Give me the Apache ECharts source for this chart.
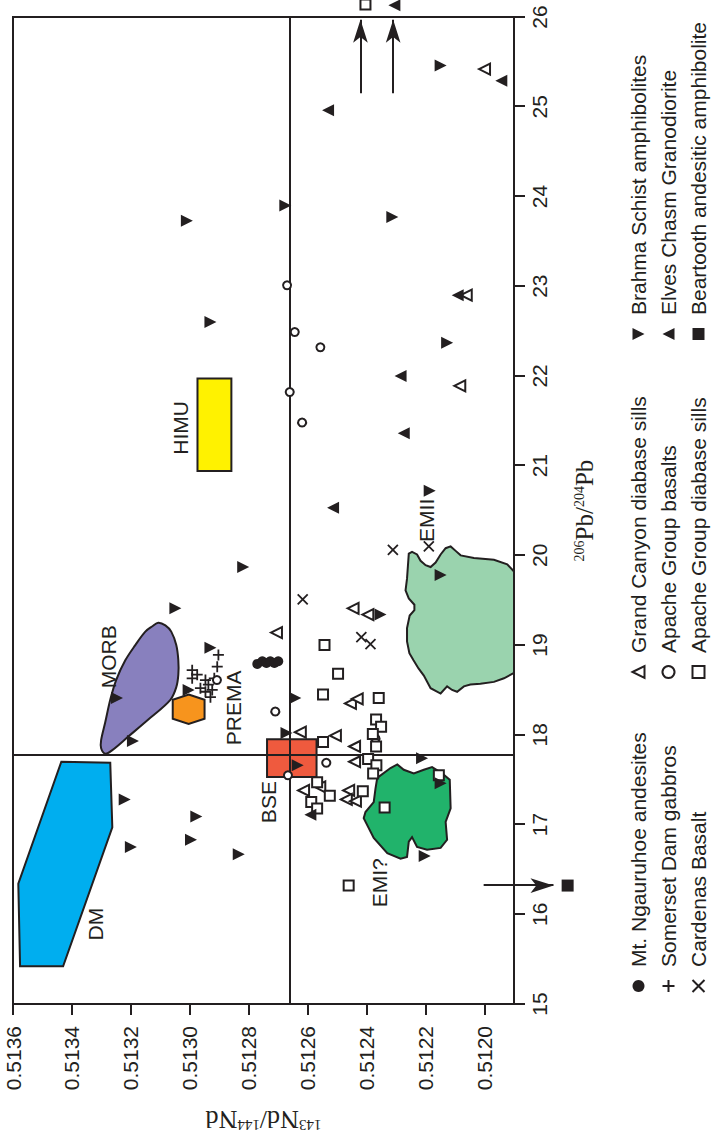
<!DOCTYPE html>
<html><head><meta charset="utf-8">
<script src="https://cdn.jsdelivr.net/npm/echarts@6/dist/echarts.min.js"></script>
<style>
html,body{margin:0;padding:0;width:714px;height:1142px;overflow:hidden;background:#fff;}
#chart{position:absolute;left:0;top:1142px;width:1142px;height:714px;transform-origin:0 0;transform:rotate(-90deg);}
</style></head><body><div id="chart"></div>
<script>
// ---- axes ----
const pbMin = 15, pbMax = 26;
const ndMin = 0.5119, ndMax = 0.5136;
const pbTicks = [15,16,17,18,19,20,21,22,23,24,25,26];
const ndTicks = [0.5120,0.5122,0.5124,0.5126,0.5128,0.5130,0.5132,0.5134,0.5136];

// ---- sample data: [206Pb/204Pb, 143Nd/144Nd] ----
const ngauruhoe = [[18.79,0.512771],[18.82,0.512754],[18.80,0.512740],[18.82,0.512727],[18.80,0.512713],[18.82,0.512700]];
const somerset = [[18.89,0.512903],[18.76,0.512907],[18.72,0.512992],[18.63,0.512992],[18.67,0.512975],[18.61,0.512947],[18.56,0.512937],[18.50,0.512924],[18.42,0.512930],[18.48,0.512947],[18.63,0.512917],[18.52,0.512964]];
const cardenas = [[19.51,0.512617],[20.06,0.512311],[20.10,0.512189],[19.09,0.512418],[19.01,0.512387]];
const grandCanyon = [[25.42,0.512000],[22.90,0.512062],[21.89,0.512084],[19.41,0.512446],[19.34,0.512396],[19.14,0.512706],[18.35,0.512455],[18.40,0.512432],[18.03,0.512625],[17.99,0.512506],[17.87,0.512441],[17.70,0.512441],[17.42,0.512559],[17.38,0.512614],[17.38,0.512461],[17.28,0.512469],[17.26,0.512438]];
const apacheBasalts = [[23.01,0.512670],[22.49,0.512644],[22.32,0.512557],[21.82,0.512661],[21.48,0.512619],[18.61,0.512908],[18.26,0.512710],[17.96,0.512370],[17.69,0.512537],[17.55,0.512667]];
const apacheSills = [[19.00,0.512543],[18.68,0.512497],[18.45,0.512548],[18.41,0.512359],[18.17,0.512368],[18.09,0.512351],[17.92,0.512548],[18.01,0.512379],[17.87,0.512368],[17.73,0.512395],[17.66,0.512367],[17.57,0.512378],[17.47,0.512568],[17.55,0.512155],[17.32,0.512525],[17.37,0.512413],[17.25,0.512588],[17.18,0.512568],[17.19,0.512339],[16.32,0.512461],[26.14,0.512404]];
const brahma = [[23.73,0.513010],[22.60,0.512930],[25.46,0.512149],[23.90,0.512676],[23.77,0.512313],[22.37,0.512127],[19.87,0.512819],[19.41,0.513049],[18.97,0.512930],[20.72,0.512186],[19.78,0.512149],[19.34,0.512353],[18.41,0.513247],[17.93,0.513193],[18.50,0.513004],[17.28,0.513221],[17.09,0.512978],[16.75,0.513200],[16.83,0.512996],[16.67,0.512834],[18.41,0.512642],[18.02,0.512672],[17.66,0.512634],[17.74,0.512212],[17.46,0.512149],[16.65,0.512203]];
const elves = [[25.29,0.511943],[24.96,0.512531],[22.90,0.512091],[22.00,0.512285],[21.36,0.512274],[20.53,0.512514],[17.11,0.512591],[26.13,0.512306]];
const beartooth = [[16.32,0.511718]];

// ---- reference values (bulk silicate earth) ----
const bsePb = 17.77;
const bseNd = 0.51266;

// ---- off-scale arrows ----
const arrowFrom = [[25.15,0.512421],[25.15,0.512310],[16.32,0.512003]];
const arrowTo   = [[25.97,0.512421],[25.97,0.512310],[16.32,0.511766]];

// ---- mantle reservoir fields ----
const fieldDM = [[17.70,0.513436],[17.69,0.513270],[16.97,0.513263],[15.42,0.513430],[15.42,0.513576],[16.34,0.513582]];
const fieldMORB = [[19.25,0.513107],[19.22,0.513083],[19.15,0.513063],[19.00,0.513046],[18.83,0.513039],[18.67,0.513039],[18.53,0.513046],[18.39,0.513066],[18.19,0.513134],[17.98,0.513209],[17.83,0.513263],[17.79,0.513287],[17.85,0.513301],[17.94,0.513301],[18.14,0.513287],[18.39,0.513270],[18.61,0.513250],[18.83,0.513219],[19.00,0.513185],[19.15,0.513151],[19.21,0.513127]];
const fieldPREMA = [[18.45,0.513004],[18.39,0.512950],[18.18,0.512950],[18.12,0.513004],[18.18,0.513058],[18.39,0.513058]];
const fieldHIMU = [[20.94,0.512974],[21.97,0.512974],[21.97,0.512859],[20.94,0.512859]];
const fieldBSE = [[17.53,0.512738],[17.95,0.512738],[17.95,0.512570],[17.53,0.512570]];
const fieldEMI = [[17.52,0.512364],[17.63,0.512319],[17.67,0.512296],[17.61,0.512274],[17.57,0.512240],[17.61,0.512206],[17.64,0.512178],[17.57,0.512144],[17.50,0.512118],[17.18,0.512115],[17.03,0.512132],[16.83,0.512127],[16.74,0.512149],[16.72,0.512195],[16.75,0.512229],[16.86,0.512246],[16.81,0.512257],[16.64,0.512263],[16.62,0.512285],[16.68,0.512330],[16.85,0.512376],[17.07,0.512410],[17.14,0.512404],[17.25,0.512376],[17.40,0.512370]];
const fieldEMII = [[20.02,0.512257],[20.04,0.512246],[20.01,0.512229],[19.94,0.512217],[19.89,0.512200],[19.87,0.512183],[19.92,0.512166],[20.01,0.512149],[20.08,0.512132],[20.10,0.512115],[20.05,0.512098],[20.00,0.512081],[19.97,0.512036],[19.95,0.511968],[19.90,0.511923],[19.82,0.5119],[18.69,0.5119],[18.63,0.511934],[18.59,0.511968],[18.57,0.512014],[18.56,0.512048],[18.54,0.512070],[18.48,0.512093],[18.50,0.512110],[18.54,0.512127],[18.46,0.512149],[18.52,0.512183],[18.66,0.512206],[18.74,0.512224],[18.83,0.512241],[18.91,0.512255],[19.04,0.512263],[19.19,0.512263],[19.33,0.512254],[19.39,0.512238],[19.45,0.512238],[19.52,0.512257],[19.61,0.512268],[19.74,0.512263]];

// ---- field labels ----
const fieldNames = ['DM','MORB','PREMA','HIMU','BSE','EMI?','EMII'];
const fieldLabelPos = [[15.89,0.513321],[18.87,0.513277],[18.30,0.512852],[21.42,0.513032],[17.25,0.512733],[16.35,0.512357],[20.39,0.512198]];

const INK = '#231f20';
const SANS = '"Liberation Sans", Arial, Helvetica, sans-serif';
const SERIF = '"Liberation Serif", "Times New Roman", serif';
const DOWN_TRIANGLE = 'path://M0,0L10,0L5,10Z';

function field(name, pts, fill, smooth) {
  return {
    type: 'custom', name: name, silent: true, z: 1, clip: true,
    coordinateSystem: 'cartesian2d',
    data: [pts[0]],
    renderItem: function (params, api) {
      return {
        type: 'polygon',
        shape: { points: pts.map(function (p) { return api.coord(p); }), smooth: smooth || 0 },
        style: { fill: fill, stroke: INK, lineWidth: 2 }
      };
    }
  };
}

const openStyle = { color: '#ffffff', borderColor: INK, borderWidth: 2, opacity: 1 };
const solidStyle = { color: INK, opacity: 1 };
const lineSym = { color: 'rgba(0,0,0,0)', borderColor: INK, borderWidth: 1.8, opacity: 1 };

const chart = echarts.init(document.getElementById('chart'), null, { renderer: 'svg', width: 1142, height: 714 });

const legendText = { fontFamily: SANS, fontSize: 21, color: INK, lineHeight: 21, padding: [0, 0, 0, 8] };
function legendCol(center, names) {
  return { orient: 'vertical', left: center - 6, top: 628, itemWidth: 12, itemHeight: 12, itemGap: 9,
    padding: 0, selectedMode: false, textStyle: legendText, data: names };
}

function scatter(name, data, symbol, size, style) {
  return { type: 'scatter', name: name, data: data, symbol: symbol, symbolSize: size,
    itemStyle: style, z: 5, clip: false };
}

const option = {
  animation: false,
  backgroundColor: '#ffffff',
  grid: { left: 138, right: 17, top: 13, bottom: 200, show: true, borderColor: INK, borderWidth: 2 },
  legend: [
    legendCol(155, ['Mt. Ngauruhoe andesites', 'Somerset Dam gabbros', 'Cardenas Basalt']),
    legendCol(469, ['Grand Canyon diabase sills', 'Apache Group basalts', 'Apache Group diabase sills']),
    legendCol(808, ['Brahma Schist amphibolites', 'Elves Chasm Granodiorite', 'Beartooth andesitic amphibolite'])
  ],
  xAxis: {
    type: 'value', min: pbMin, max: pbMax, interval: 1,
    name: '{sup|206}{main|Pb/}{sup|204}{main|Pb}',
    nameLocation: 'middle', nameGap: 58,
    nameTextStyle: { rich: {
      main: { fontFamily: SERIF, fontSize: 25, color: INK },
      sup: { fontFamily: SERIF, fontSize: 14, color: INK, verticalAlign: 'top' }
    } },
    axisLine: { lineStyle: { color: INK, width: 2 } },
    axisTick: { length: 11, lineStyle: { color: INK, width: 2 }, customValues: pbTicks },
    axisLabel: { fontFamily: SANS, fontSize: 21, color: INK, margin: 15, customValues: pbTicks },
    splitLine: { show: false }
  },
  yAxis: {
    type: 'value', min: ndMin, max: ndMax,
    name: '{sup|143}{main|Nd/}{sup|144}{main|Nd}',
    nameLocation: 'middle', nameGap: 102,
    nameTextStyle: { rich: {
      main: { fontFamily: SERIF, fontSize: 26, color: INK },
      sup: { fontFamily: SERIF, fontSize: 15, color: INK, verticalAlign: 'top' }
    } },
    axisLine: { show: true, lineStyle: { color: INK, width: 2 } },
    axisTick: { show: true, length: 11, lineStyle: { color: INK, width: 2 }, customValues: ndTicks },
    axisLabel: { fontFamily: SANS, fontSize: 21, color: INK, margin: 22, customValues: ndTicks,
      formatter: function (v) { return v.toFixed(4); } },
    splitLine: { show: false }
  },
  series: [
    field('DM', fieldDM, '#00aeef', 0),
    field('MORB', fieldMORB, '#8880be', 0.35),
    field('PREMA', fieldPREMA, '#f7941d', 0),
    field('HIMU', fieldHIMU, '#fff200', 0),
    field('EMII', fieldEMII, '#9ad3ae', 0),
    field('EMI', fieldEMI, '#21b36b', 0),
    field('BSE', fieldBSE, '#ef5a3e', 0),
    {
      type: 'lines', name: 'reference', coordinateSystem: 'cartesian2d', silent: true, z: 3, clip: false,
      symbol: ['none', 'none'],
      lineStyle: { color: INK, width: 2, opacity: 1 },
      data: [
        { coords: [[pbMin, bseNd], [pbMax, bseNd]] },
        { coords: [[bsePb, ndMin], [bsePb, ndMax]] }
      ]
    },
    {
      type: 'lines', name: 'arrows', coordinateSystem: 'cartesian2d', silent: true, z: 3, clip: false,
      symbol: ['none', 'arrow'], symbolSize: [1, [11, 23]],
      lineStyle: { color: INK, width: 2, opacity: 1 },
      data: arrowFrom.map(function (f, i) { return { coords: [f, arrowTo[i]] }; })
    },
    scatter('Mt. Ngauruhoe andesites', ngauruhoe, 'circle', 10, solidStyle),
    scatter('Somerset Dam gabbros', somerset, 'path://M5,0L5,10M0,5L10,5', 11, lineSym),
    scatter('Cardenas Basalt', cardenas, 'path://M0,0L10,10M10,0L0,10', 10, lineSym),
    scatter('Grand Canyon diabase sills', grandCanyon, 'triangle', 11, openStyle),
    scatter('Apache Group basalts', apacheBasalts, 'circle', 8, openStyle),
    scatter('Apache Group diabase sills', apacheSills, 'rect', 10, openStyle),
    scatter('Brahma Schist amphibolites', brahma, DOWN_TRIANGLE, 12, solidStyle),
    scatter('Elves Chasm Granodiorite', elves, 'triangle', 12, solidStyle),
    scatter('Beartooth andesitic amphibolite', beartooth, 'rect', 12, solidStyle),
    {
      type: 'scatter', name: 'field labels', silent: true, z: 6, symbolSize: 1,
      itemStyle: { color: 'rgba(0,0,0,0)', opacity: 1 },
      label: { show: true, position: 'inside', formatter: '{b}', fontFamily: SANS, fontSize: 21,
        color: INK, opacity: 1, textBorderWidth: 0, textShadowBlur: 0 },
      data: fieldNames.map(function (n, i) { return { name: n, value: fieldLabelPos[i] }; })
    }
  ]
};
chart.setOption(option);
</script></body></html>
